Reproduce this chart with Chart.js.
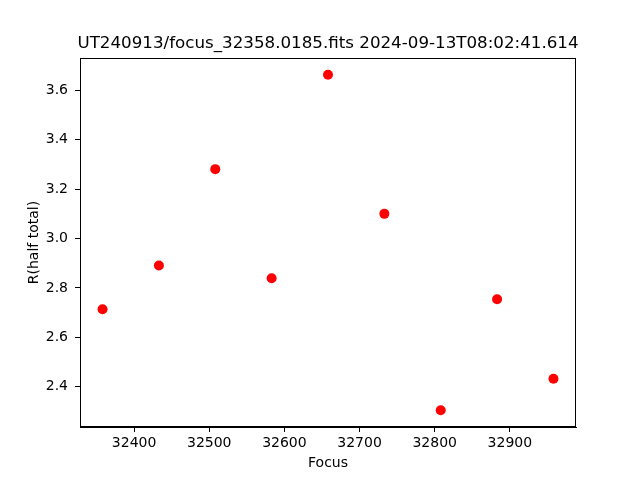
<!DOCTYPE html>
<html>
<head>
<meta charset="utf-8">
<script src="https://cdn.jsdelivr.net/npm/chart.js@4/dist/chart.umd.min.js"></script>
<style>
  html, body { margin: 0; padding: 0; background: #fff; }
  #wrap { width: 640px; height: 480px; }
</style>
</head>
<body>
<div id="wrap"><canvas id="focusPlot" width="640" height="480"></canvas></div>
<script>
// focus positions and measured radius
var focusValues = [32358, 32433, 32508, 32583, 32658, 32733, 32808, 32883, 32958];
var radiusValues = [2.714, 2.891, 3.281, 2.839, 3.663, 3.100, 2.305, 2.754, 2.432];
var xTicks = [32400, 32500, 32600, 32700, 32800, 32900];
var yTicks = [2.4, 2.6, 2.8, 3.0, 3.2, 3.4, 3.6];
var plotTitle = 'UT240913/focus_32358.0185.fits 2024-09-13T08:02:41.614';

var points = focusValues.map(function(f, i) {
  return { x: f, y: radiusValues[i] };
});

// box round the axes + title centred over the plot area
var frame = {
  id: 'frame',
  afterDraw: function(chart) {
    var ctx = chart.ctx;
    var a = chart.chartArea;
    ctx.save();
    ctx.strokeStyle = '#000';
    ctx.lineWidth = 1;
    ctx.strokeRect(Math.round(a.left) + 0.5, Math.round(a.top) + 0.5,
      Math.round(a.right - a.left) - 1, Math.round(a.bottom - a.top) - 1);
    ctx.fillStyle = '#000';
    ctx.font = '16.7px "DejaVu Sans"';
    ctx.textAlign = 'center';
    ctx.textBaseline = 'middle';
    ctx.fillText(plotTitle, (a.left + a.right) / 2, 44);
    ctx.restore();
  }
};

var tickFont = { family: 'DejaVu Sans', size: 14 };

var config = {
  type: 'scatter',
  data: {
    datasets: [{
      label: 'R(half total)',
      data: points,
      backgroundColor: '#ff0000',
      borderWidth: 0,
      pointRadius: 5,
      pointHoverRadius: 5
    }]
  },
  options: {
    responsive: false,
    animation: false,
    layout: { padding: { top: 58, right: 64, left: 0, bottom: 0 } },
    plugins: {
      legend: { display: false },
      tooltip: { enabled: false },
      title: { display: false }
    },
    scales: {
      x: {
        type: 'linear',
        min: 32328,
        max: 32988,
        afterBuildTicks: function(scale) {
          scale.ticks = xTicks.map(function(v) { return { value: v }; });
        },
        afterFit: function(scale) { scale.height = 53; },
        ticks: {
          color: '#000',
          font: tickFont,
          padding: 3,
          maxRotation: 0,
          callback: function(v) { return String(v); }
        },
        grid: {
          drawOnChartArea: false,
          drawTicks: true,
          tickLength: 5,
          color: '#000'
        },
        border: { display: true, color: '#000', width: 1 },
        title: {
          display: true,
          text: 'Focus',
          color: '#000',
          font: tickFont,
          padding: { top: 0, bottom: 8 }
        }
      },
      y: {
        type: 'linear',
        min: 2.237,
        max: 3.731,
        afterBuildTicks: function(scale) {
          scale.ticks = yTicks.map(function(v) { return { value: v }; });
        },
        afterFit: function(scale) { scale.width = 80; },
        ticks: {
          color: '#000',
          font: tickFont,
          padding: 7,
          callback: function(v) { return v.toFixed(1); }
        },
        grid: {
          drawOnChartArea: false,
          drawTicks: true,
          tickLength: 5,
          color: '#000'
        },
        border: { display: true, color: '#000', width: 1 },
        title: {
          display: true,
          text: 'R(half total)',
          color: '#000',
          font: tickFont,
          padding: { top: 26, bottom: 0 }
        }
      }
    }
  },
  plugins: [frame]
};

var ctx = document.getElementById('focusPlot').getContext('2d');
new Chart(ctx, config);
</script>
</body>
</html>
